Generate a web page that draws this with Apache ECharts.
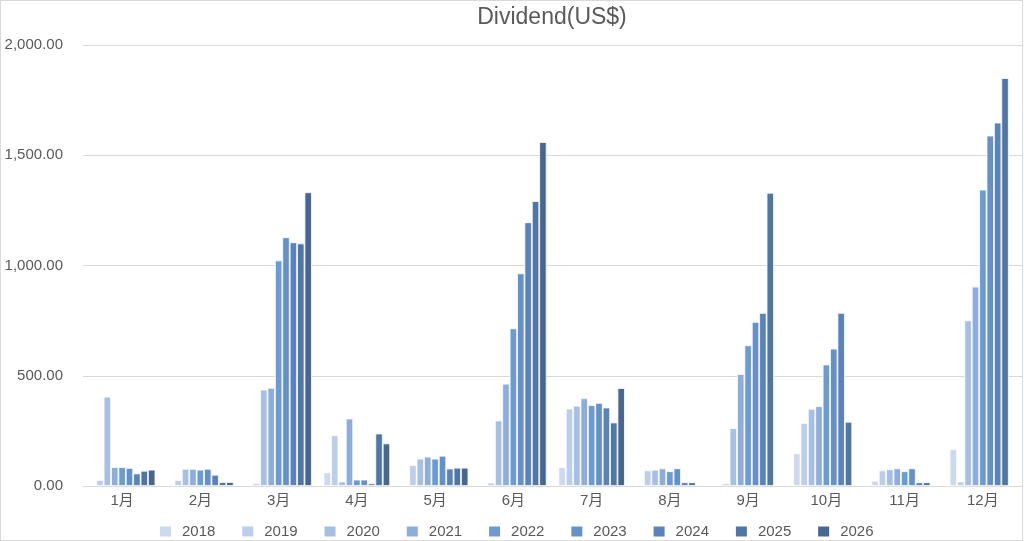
<!DOCTYPE html>
<html lang="en">
<head>
    <meta charset="UTF-8">
    <title>Dividend(US$)</title>
    <script type="text/javascript" src="https://cdn.jsdelivr.net/npm/echarts@6/dist/echarts.min.js"></script>
    <style>
        html, body { margin: 0; padding: 0; background: #fff; }
        #wrap { position: relative; width: 1024px; height: 541px; }
        #chart { width: 1024px; height: 541px; }
        #frame { position: absolute; left: 0; top: 0; width: 1023px; height: 541px;
                 box-sizing: border-box; border: 1px solid #d9d9d9; pointer-events: none; }
    </style>
</head>
<body>
    <div id="wrap">
        <div id="chart"></div>
        <div id="frame"></div>
    </div>
<script>
    // 月份
    var months = ['1月', '2月', '3月', '4月', '5月', '6月', '7月', '8月', '9月', '10月', '11月', '12月'];
    // 每年的分红(US$)，null = 当月没有
    var y2018 = [null, null, null, 62, null, null, 86, null, null, 148, 24, 168];
    var y2019 = [27, 27, 13, 230, 95, 15, 351, 71, 12, 286, 71, 20];
    var y2020 = [405, 78, 437, 20, 124, 297, 364, 74, 262, 350, 76, 751];
    var y2021 = [86, 78, 445, 306, 133, 464, 398, 80, 508, 362, 80, 904];
    var y2022 = [86, 74, 1023, 29, 124, 715, 367, 67, 638, 551, 67, 1344];
    var y2023 = [82, 78, 1128, 29, 137, 964, 377, 80, 744, 623, 80, 1589];
    var y2024 = [57, 51, 1105, 12, 79, 1196, 356, 17, 785, 785, 17, 1648];
    var y2025 = [69, 18, 1100, 238, 83, 1292, 288, 17, 1330, 291, 17, 1850];
    var y2026 = [74, 18, 1332, 193, 83, 1560, 444, null, null, null, null, null];
    var years = ['2018', '2019', '2020', '2021', '2022', '2023', '2024', '2025', '2026'];
    var yearData = [y2018, y2019, y2020, y2021, y2022, y2023, y2024, y2025, y2026];
    // y轴刻度
    var yTicks = [0, 500, 1000, 1500, 2000];

    var colors = ['#cdd9ee', '#bccee9', '#a6bfe3', '#8eadda', '#6c9bd3',
                  '#6590c8', '#5b82b9', '#5076a6', '#476690'];
    var font = '"Liberation Sans", "Noto Sans CJK JP", sans-serif';
    var grey = '#595959';

    var chart = echarts.init(document.getElementById('chart'));

    var series = years.map(function (y, i) {
        return {
            name: y,
            type: 'bar',
            data: yearData[i],
            barGap: '0%',
            barCategoryGap: '15%',
            itemStyle: { color: colors[i], borderColor: '#fff', borderWidth: 0.8 }
        };
    });

    var option = {
        animation: false,
        color: colors,
        title: {
            text: 'Dividend(US$)',
            left: 547,
            textAlign: 'center',
            top: 1,
            textStyle: { fontFamily: font, fontSize: 23, fontWeight: 'normal', color: grey }
        },
        legend: {
            data: years,
            left: 155,
            top: 519,
            itemWidth: 11,
            itemHeight: 10,
            itemGap: 26.9,
            icon: 'rect',
            itemStyle: { borderWidth: 0 }, // 图例方块不要白边
            textStyle: { fontFamily: font, fontSize: 15, color: grey, padding: [0, 0, 0, 6] }
        },
        grid: { left: 83, right: 2, top: 45, bottom: 55, containLabel: false },
        xAxis: {
            type: 'category',
            data: months,
            axisTick: { show: false },
            axisLine: { lineStyle: { color: '#d9d9d9', width: 1 } },
            axisLabel: { fontFamily: font, fontSize: 15, color: grey, margin: 7 }
        },
        yAxis: {
            type: 'value',
            min: yTicks[0],
            max: yTicks[yTicks.length - 1],
            interval: yTicks[1] - yTicks[0],
            axisLine: { show: false },
            axisTick: { show: false },
            splitLine: { lineStyle: { color: '#d9d9d9', width: 1 } },
            axisLabel: {
                fontFamily: font, fontSize: 15, color: grey, margin: 20,
                formatter: function (v) {
                    return v.toFixed(2).replace(/\B(?=(\d{3})+(?!\d))/g, ',');
                }
            }
        },
        series: series
    };
    chart.setOption(option);
</script>
</body>
</html>
